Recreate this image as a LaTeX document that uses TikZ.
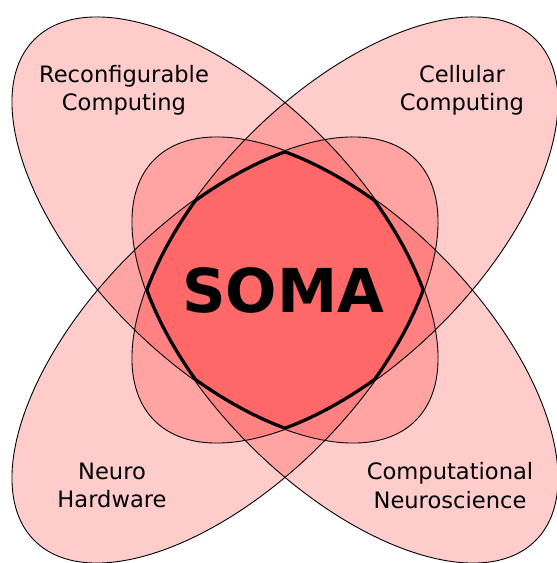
\documentclass[tikz,border=0pt]{standalone}
\usepackage{fontspec}
\newfontfamily\labelfont{DejaVu Sans}
\begin{document}
\begin{tikzpicture}[x=1pt,y=1pt,
    petalfill/.style={fill=red,fill opacity=0.2},
    petalline/.style={draw=black,line width=0.9pt},
    somaline/.style={draw=black,line width=5.6pt},
    fieldlabel/.style={font=\labelfont\fontsize{22.6}{28.3}\selectfont,align=center,text=black},
    somalabel/.style={font=\labelfont\bfseries\fontsize{60.5}{60.5}\selectfont,text=black},
  ]
  \useasboundingbox (0,0) rectangle (557,563);
  \def\petalA{269.5pt}
  \def\petalB{134.6pt}
  \newcommand\petal[3]{% {<center>}{<angle>}{<path-style>}
    \path[rotate around={#2:(#1)},#3] (#1) ellipse [x radius=\petalA, y radius=\petalB];
  }

  \coordinate (reconf) at (225,333);
  \coordinate (cellular) at (345,333);
  \coordinate (neuro) at (225,213);
  \coordinate (compneuro) at (345,213);

  % the four fields
  \petal{reconf}{-45}{petalfill}
  \petal{cellular}{45}{petalfill}
  \petal{neuro}{45}{petalfill}
  \petal{compneuro}{-45}{petalfill}
  \petal{reconf}{-45}{petalline}
  \petal{cellular}{45}{petalline}
  \petal{neuro}{45}{petalline}
  \petal{compneuro}{-45}{petalline}

  % outline of the common part
  \begin{scope}
    \petal{reconf}{-45}{clip}
    \petal{cellular}{45}{clip}
    \petal{neuro}{45}{clip}
    \petal{compneuro}{-45}{clip}
    \petal{reconf}{-45}{somaline}
    \petal{cellular}{45}{somaline}
    \petal{neuro}{45}{somaline}
    \petal{compneuro}{-45}{somaline}
  \end{scope}

  \node[fieldlabel] (reconflabel) at (124,473) {Reconfigurable\\Computing};
  \node[fieldlabel] (cellularlabel) at (462,473) {Cellular\\Computing};
  \node[fieldlabel] (neurolabel) at (112,77.4) {Neuro\\Hardware};
  \node[fieldlabel] (compneurolabel) at (450,77.4) {Computational\\Neuroscience};
  \node[somalabel] (soma) at (283.3,272.6) {SOMA};
\end{tikzpicture}
\end{document}
